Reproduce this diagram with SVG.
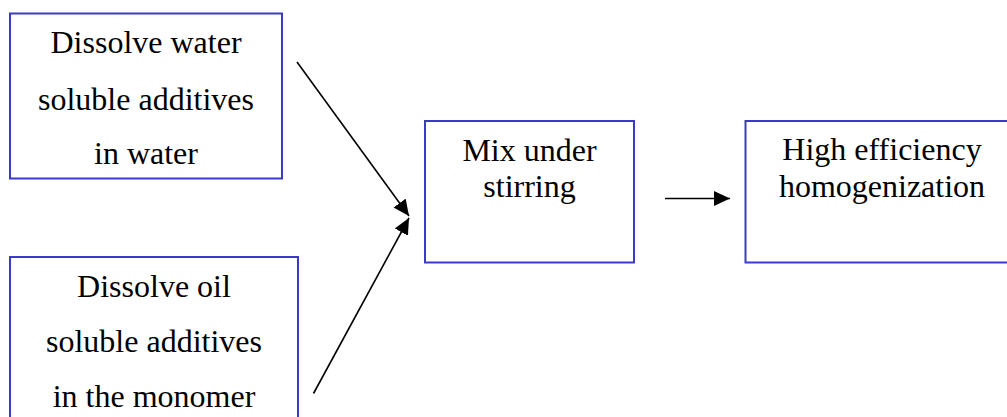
<svg xmlns="http://www.w3.org/2000/svg" width="1007" height="417" viewBox="0 0 1007 417">
<style>
.box{fill:#fff;stroke:#3a3acc;stroke-width:2}
.t{font-family:'Liberation Serif','Times New Roman',serif;font-size:32px;fill:#000;text-anchor:middle}
.c{stroke:#000;stroke-width:1.6;fill:none;marker-end:url(#ah)}
</style>
<defs>
<marker id="ah" markerUnits="userSpaceOnUse" markerWidth="18" markerHeight="16" refX="16" refY="7.5" orient="auto">
<path d="M0,0 L16,7.5 L0,15 Z" fill="#000"/>
</marker>
</defs>
<rect width="1007" height="417" fill="#fff"/>
<g id="node-water">
<rect class="box" x="10" y="13.5" width="272" height="165"/>
<text class="t" font-family="Liberation Serif, serif" x="146" y="53">Dissolve water</text>
<text class="t" font-family="Liberation Serif, serif" x="146" y="110">soluble additives</text>
<text class="t" font-family="Liberation Serif, serif" x="146" y="164">in water</text>
</g>
<g id="node-oil">
<rect class="box" x="10" y="257" width="288" height="180"/>
<text class="t" font-family="Liberation Serif, serif" x="154" y="297">Dissolve oil</text>
<text class="t" font-family="Liberation Serif, serif" x="154" y="352">soluble additives</text>
<text class="t" font-family="Liberation Serif, serif" x="154" y="407">in the monomer</text>
</g>
<g id="node-mix">
<rect class="box" x="425" y="121" width="209" height="141.5"/>
<text class="t" font-family="Liberation Serif, serif" x="529.5" y="161">Mix under</text>
<text class="t" font-family="Liberation Serif, serif" x="529.5" y="196.5">stirring</text>
</g>
<g id="node-homog">
<rect class="box" x="745.5" y="121" width="272" height="141.5"/>
<text class="t" font-family="Liberation Serif, serif" x="882" y="160">High efficiency</text>
<text class="t" font-family="Liberation Serif, serif" x="882" y="197">homogenization</text>
</g>
<g id="connectors">
<line class="c" x1="297" y1="62" x2="409" y2="216"/>
<line class="c" x1="313.5" y1="393.5" x2="409" y2="218"/>
<line class="c" x1="665" y1="198.5" x2="730" y2="198.5"/>
</g>
</svg>
